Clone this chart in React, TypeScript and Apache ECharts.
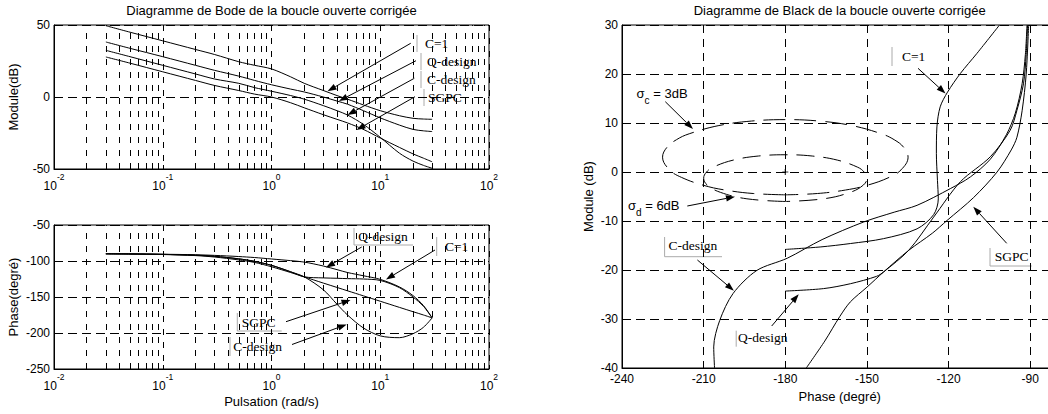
import React, { useEffect, useRef } from 'react';
import * as echarts from 'echarts';

// ---------- Bode data (pulsation rad/s) ----------
const omega = [0.03, 0.05, 0.1, 0.2, 0.3, 0.5, 0.7, 1, 1.5, 2, 3, 4, 5, 7, 10, 15, 20, 25, 30];

const magC1 = [49.5, 45, 39, 33, 29.5, 24.5, 22, 19.5, 14, 9.5, 4.5, 1, -1.5, -5.5, -9.5, -13, -14.8, -15.3, -15.5];
const magQdesign = [38.2, 33.8, 28, 22, 18.5, 14.5, 11.5, 8.5, 5.5, 3.5, 0, -2.8, -5, -9.5, -14.5, -19.5, -22.5, -23.5, -24];
const magCdesign = [32.4, 28, 22, 16, 12.5, 9.5, 6.5, 4, 1, -1.5, -6, -9.5, -12.5, -19, -28, -39, -44.5, -47.5, -49.5];
const magSGPC = [27.8, 23.5, 17.5, 11.5, 8, 4.5, 2, 0, -4, -7.5, -12.3, -15.5, -18, -22.5, -28.5, -35, -39.5, -42.5, -45];

const phC1 = [-90, -90.2, -90.8, -92, -93.5, -97, -100.5, -106, -115, -122, -123.5, -124, -124.5, -125, -127, -137, -150, -163, -179];
const phQdesign = [-90, -90.2, -90.6, -91.3, -92.2, -93.8, -95.2, -97.2, -99.5, -101.5, -107, -112, -116, -120.5, -125.5, -136, -148, -162, -179];
const phCdesign = [-90, -90.2, -90.8, -92, -93.5, -97, -100.5, -106, -115, -122, -140, -160, -175, -193, -204, -206.5, -201, -192, -179];
const phSGPC = [-90, -90.3, -91, -92.5, -94.5, -98.5, -102, -108, -116, -122, -130.7, -136.7, -141.4, -148.4, -155.9, -164.4, -170.4, -175, -179];

const minorTicks = [0.02, 0.03, 0.04, 0.05, 0.06, 0.07, 0.08, 0.09, 0.2, 0.3, 0.4, 0.5, 0.6, 0.7, 0.8, 0.9, 2, 3, 4, 5, 6, 7, 8, 9, 20, 30, 40, 50, 60, 70, 80, 90];

// ---------- Black (Nichols) data: phase (deg), module (dB) ----------
const blackC1Phase = [-101.3, -109.6, -115.7, -120.4, -123.1, -124.3, -124.5, -124.1, -123.8, -125.5, -131.6, -143.9, -156.1, -167.2, -180];
const blackC1Mag = [30, 24.2, 20.1, 16.3, 13.3, 9.2, 3.8, -1.7, -5.5, -8.7, -11.6, -13.6, -14.6, -15.3, -15.8];

const blackQPhase = [-180, -166, -156.1, -146.5, -143.9, -134.7, -125.5, -115.7, -104.7, -97.4, -94.9, -92.5, -91.5, -91];
const blackQMag = [-24.3, -23.8, -22.8, -21.3, -20.4, -16, -9.2, -2, 3.1, 8.5, 12.6, 18, 24, 30];

const blackCPhase = [-206, -206.3, -204.1, -199.2, -190.5, -179.3, -166.5, -151.2, -140, -131.6, -119.4, -112, -104.7, -98.8, -95.5, -93, -91.8, -91.2];
const blackCMag = [-40, -35.7, -30.3, -24.8, -20.1, -17.6, -13.8, -10.2, -8.2, -6.8, -3.4, -1, 2.6, 7.6, 12, 18, 24, 30];

const blackSPhase = [-172.3, -165.5, -160, -156.1, -150, -143.9, -134.7, -126, -120.6, -110.8, -102.2, -97, -94.9, -93, -91.5, -90.6];
const blackSMag = [-40, -34.5, -29.5, -26.5, -23.5, -20.4, -16, -12.5, -9.9, -5.2, 0, 4.5, 7.1, 12.5, 20, 30];

// iso-contours sigma_c = 3dB (outer) and sigma_d = 6dB (inner)
const sigmaCPhase = [-180, -191.8, -202.1, -210.1, -218.1, -222.5, -225.1, -223.5, -220, -215.3, -204.4, -192.4, -180, -167.6, -155.6, -144.7, -140, -136.5, -134.9, -137.5, -141.9, -149.9, -157.9, -168.2, -180];
const sigmaCMag = [-4.66, -4.39, -3.68, -2.71, -1.11, 0.43, 3.03, 5.03, 6.59, 7.8, 9.48, 10.4, 10.69, 10.4, 9.48, 7.8, 6.59, 5.03, 3.03, 0.43, -1.11, -2.71, -3.68, -4.39, -4.66];

const sigmaDPhase = [-180, -194.1, -203.8, -208.7, -210, -209, -206.6, -199.1, -189.9, -180, -170.1, -160.9, -153.4, -151, -150, -151.3, -156.2, -165.9, -180];
const sigmaDMag = [-6.02, -5.47, -4.16, -2.65, -1.25, -0.04, 0.97, 2.43, 3.26, 3.52, 3.26, 2.43, 0.97, -0.04, -1.25, -2.65, -4.16, -5.47, -6.02];

const criticalPoint = [[-180, 0]];

const SANS = '"Liberation Sans", Arial, sans-serif';
const SERIF = '"Liberation Serif", "Times New Roman", serif';

const bode = (mag: number[]) => omega.map((w, i) => [w, mag[i]]);
const pairs = (xs: number[], ys: number[]) => xs.map((x, i) => [x, ys[i]]);

function arrow(x1: number, y1: number, x2: number, y2: number) {
  const dx = x2 - x1, dy = y2 - y1;
  const L = Math.hypot(dx, dy);
  const ux = dx / L, uy = dy / L;
  const hl = 9, hw = 3.2;
  const bx = x2 - ux * hl, by = y2 - uy * hl;
  return [
    { type: 'line', silent: true, shape: { x1, y1, x2: bx, y2: by }, style: { stroke: '#000', lineWidth: 1 } },
    { type: 'polygon', silent: true, shape: { points: [[x2, y2], [bx - uy * hw, by + ux * hw], [bx + uy * hw, by - ux * hw]] }, style: { fill: '#000' } },
  ];
}

function tag(text: string, x: number, y: number, barX: number, barY1: number, barY2: number, underlineTo?: number) {
  const els: any[] = [
    { type: 'text', silent: true, x, y, style: { text, fontSize: 13.5, fontFamily: SERIF, fill: '#000', align: 'left', verticalAlign: 'middle' } },
    { type: 'line', silent: true, shape: { x1: barX, y1: barY1, x2: barX, y2: barY2 }, style: { stroke: '#aaa', lineWidth: 1 } },
  ];
  if (underlineTo !== undefined) {
    els.push({ type: 'line', silent: true, shape: { x1: barX, y1: barY2, x2: underlineTo, y2: barY2 }, style: { stroke: '#aaa', lineWidth: 1 } });
  }
  return els;
}

export default function App() {
  const ref = useRef<HTMLDivElement>(null);

  useEffect(() => {
    const chart = echarts.init(ref.current!, null, { renderer: 'svg' });

    const tickStyle = { inside: true, length: 4, lineStyle: { color: '#000' } };
    const axisLine = { show: true, onZero: false, lineStyle: { color: '#000', width: 1 } };
    const logLabel = {
      color: '#000',
      margin: 3,
      formatter: (v: number) => `{b|10}{s|${Math.round(Math.log10(v))}}`,
      rich: {
        b: { fontSize: 12, fontFamily: SANS, color: '#000', lineHeight: 20, verticalAlign: 'bottom' },
        s: { fontSize: 8.5, fontFamily: SANS, color: '#000', lineHeight: 10, verticalAlign: 'top' },
      },
    };
    const nameStyle = { color: '#000', fontSize: 13, fontFamily: SANS };
    const valLabel = { color: '#000', fontSize: 12, fontFamily: SANS, margin: 4 };

    const lineBase = {
      type: 'line',
      showSymbol: false,
      symbol: 'none',
      smooth: 0.3,
      silent: true,
      z: 3,
      lineStyle: { color: '#000', width: 1 },
    };
    const minorLines = {
      silent: true,
      symbol: ['none', 'none'],
      label: { show: false },
      emphasis: { disabled: true },
      lineStyle: { color: '#000', width: 1, type: [6, 7] },
      data: minorTicks.map((v) => ({ xAxis: v })),
    };

    const gridBase = { show: true, borderColor: '#000', borderWidth: 1, backgroundColor: 'transparent', containLabel: false, outerBoundsMode: 'none' };

    const graphics: any[] = [
      { type: 'text', silent: true, x: 271.5, y: 10, style: { text: 'Diagramme de Bode de la boucle ouverte corrigée', fontSize: 13, fontFamily: SANS, fill: '#000', align: 'center', verticalAlign: 'middle' } },
      { type: 'text', silent: true, x: 839.7, y: 10, style: { text: 'Diagramme de Black de la boucle ouverte corrigée', fontSize: 13, fontFamily: SANS, fill: '#000', align: 'center', verticalAlign: 'middle' } },
      // Bode module
      ...tag('C=1', 425, 43.5, 417, 35, 52),
      ...tag('Q-design', 427, 61, 421, 53, 70),
      ...tag('C-design', 427, 79, 421, 71, 88),
      ...tag('SGPC', 428, 97, 424, 89, 106),
      ...arrow(410.7, 43.3, 327.5, 91.2),
      ...arrow(416, 60.7, 339, 101),
      ...arrow(414.3, 78.3, 347.5, 115),
      ...arrow(415, 96.7, 356.5, 130),
      // Bode phase
      ...tag('Q-design', 358.3, 236, 354, 228, 245, 413),
      ...tag('C=1', 445, 246.7, 436.7, 237, 256),
      ...tag('SGPC', 241.7, 322, 237.3, 313, 331, 281.7),
      ...tag('C-design', 233.3, 346, 230, 337, 356),
      ...arrow(361.7, 247, 326, 267.5),
      ...arrow(435, 250, 386, 279.5),
      ...arrow(286, 321.7, 350.5, 300),
      ...arrow(292, 344.5, 346.7, 324.5),
      // Black
      ...tag('C=1', 902, 56.7, 892, 47, 66),
      ...arrow(918, 68.3, 945.5, 93.5),
      ...tag('C-design', 668.6, 245, 664.6, 237, 256.7, 722),
      ...arrow(697.4, 260, 733.9, 290.7),
      ...tag('Q-design', 737.9, 337.3, 736.2, 330.7, 346.7),
      ...arrow(771.7, 326, 798.7, 294.3),
      ...tag('SGPC', 994.7, 256.7, 990, 248, 266, 1031.8),
      ...arrow(1006.7, 243.3, 973.3, 206.7),
      {
        type: 'text', silent: true, x: 636.6, y: 96,
        style: {
          text: '{a|σ}{b|c}{a| = 3dB}', fill: '#000', align: 'left', verticalAlign: 'middle',
          rich: {
            a: { fontSize: 13, fontFamily: SANS, fill: '#000', lineHeight: 18, verticalAlign: 'top' },
            b: { fontSize: 10, fontFamily: SANS, fill: '#000', lineHeight: 10, verticalAlign: 'bottom' },
          },
        },
      },
      ...arrow(665.3, 101.7, 693, 129),
      {
        type: 'text', silent: true, x: 628, y: 208,
        style: {
          text: '{a|σ}{b|d}{a| = 6dB}', fill: '#000', align: 'left', verticalAlign: 'middle',
          rich: {
            a: { fontSize: 13, fontFamily: SANS, fill: '#000', lineHeight: 18, verticalAlign: 'top' },
            b: { fontSize: 10, fontFamily: SANS, fill: '#000', lineHeight: 10, verticalAlign: 'bottom' },
          },
        },
      },
      ...arrow(687.3, 206, 735, 196.7),
    ];

    const option: any = {
      animation: false,
      backgroundColor: '#fff',
      grid: [
        { ...gridBase, left: 54, top: 25, width: 435, height: 144 },
        { ...gridBase, left: 54, top: 225, width: 435, height: 144 },
        { ...gridBase, left: 622, top: 25, width: 435.5, height: 343 },
      ],
      xAxis: [
        {
          type: 'log', logBase: 10, min: 0.01, max: 100, gridIndex: 0,
          axisLine, axisTick: tickStyle, axisLabel: logLabel,
          splitLine: { show: true, lineStyle: { color: '#000', width: 1, type: [6, 7] } },
        },
        {
          type: 'log', logBase: 10, min: 0.01, max: 100, gridIndex: 1,
          axisLine, axisTick: tickStyle, axisLabel: logLabel,
          splitLine: { show: true, lineStyle: { color: '#000', width: 1, type: [6, 7] } },
          name: 'Pulsation (rad/s)', nameLocation: 'middle', nameGap: 26, nameTextStyle: nameStyle,
        },
        {
          type: 'value', min: -240, max: -80, interval: 30, gridIndex: 2,
          axisLine, axisTick: tickStyle, axisLabel: { ...valLabel, margin: 5, showMaxLabel: false },
          splitLine: { show: true, lineStyle: { color: '#000', width: 1, type: [8, 6] } },
          name: 'Phase (degré)', nameLocation: 'middle', nameGap: 22, nameTextStyle: nameStyle,
        },
      ],
      yAxis: [
        {
          type: 'value', min: -50, max: 50, interval: 50, gridIndex: 0,
          axisLine, axisTick: tickStyle, axisLabel: valLabel,
          splitLine: { show: true, lineStyle: { color: '#000', width: 1, type: [9, 5] } },
          name: 'Module(dB)', nameLocation: 'middle', nameGap: 34, nameTextStyle: nameStyle,
        },
        {
          type: 'value', min: -250, max: -50, interval: 50, gridIndex: 1,
          axisLine, axisTick: tickStyle, axisLabel: valLabel,
          splitLine: { show: true, lineStyle: { color: '#000', width: 1, type: [9, 5] } },
          name: 'Phase(degré)', nameLocation: 'middle', nameGap: 34, nameTextStyle: nameStyle,
        },
        {
          type: 'value', min: -40, max: 30, interval: 10, gridIndex: 2,
          axisLine, axisTick: tickStyle, axisLabel: valLabel,
          splitLine: { show: true, lineStyle: { color: '#000', width: 1, type: [9, 5] } },
          name: 'Module (dB)', nameLocation: 'middle', nameGap: 27, nameTextStyle: nameStyle,
        },
      ],
      series: [
        { ...lineBase, name: 'C=1', xAxisIndex: 0, yAxisIndex: 0, data: bode(magC1), markLine: minorLines },
        { ...lineBase, name: 'Q-design', xAxisIndex: 0, yAxisIndex: 0, data: bode(magQdesign) },
        { ...lineBase, name: 'C-design', xAxisIndex: 0, yAxisIndex: 0, data: bode(magCdesign) },
        { ...lineBase, name: 'SGPC', xAxisIndex: 0, yAxisIndex: 0, data: bode(magSGPC) },

        { ...lineBase, name: 'C=1 phase', xAxisIndex: 1, yAxisIndex: 1, data: bode(phC1), markLine: minorLines },
        { ...lineBase, name: 'Q-design phase', xAxisIndex: 1, yAxisIndex: 1, data: bode(phQdesign) },
        { ...lineBase, name: 'C-design phase', xAxisIndex: 1, yAxisIndex: 1, data: bode(phCdesign) },
        { ...lineBase, name: 'SGPC phase', xAxisIndex: 1, yAxisIndex: 1, data: bode(phSGPC) },

        { ...lineBase, name: 'C=1 black', xAxisIndex: 2, yAxisIndex: 2, data: pairs(blackC1Phase, blackC1Mag) },
        { ...lineBase, name: 'Q-design black', xAxisIndex: 2, yAxisIndex: 2, data: pairs(blackQPhase, blackQMag) },
        { ...lineBase, name: 'C-design black', xAxisIndex: 2, yAxisIndex: 2, data: pairs(blackCPhase, blackCMag) },
        { ...lineBase, name: 'SGPC black', xAxisIndex: 2, yAxisIndex: 2, data: pairs(blackSPhase, blackSMag) },
        { ...lineBase, name: 'sigma_c', xAxisIndex: 2, yAxisIndex: 2, smooth: 0.4, lineStyle: { color: '#000', width: 1, type: [22, 9] }, data: pairs(sigmaCPhase, sigmaCMag) },
        { ...lineBase, name: 'sigma_d', xAxisIndex: 2, yAxisIndex: 2, smooth: 0.4, lineStyle: { color: '#000', width: 1, type: [18, 9] }, data: pairs(sigmaDPhase, sigmaDMag) },
        {
          type: 'scatter', name: 'critical', xAxisIndex: 2, yAxisIndex: 2, silent: true, z: 4,
          symbol: 'path://M4,0L6,0L6,4L10,4L10,6L6,6L6,10L4,10L4,6L0,6L0,4L4,4Z', symbolSize: 6,
          itemStyle: { color: '#000' }, data: criticalPoint,
        },
      ],
      graphic: graphics,
    };

    chart.setOption(option);
    return () => chart.dispose();
  }, []);

  return (
    <div
      ref={ref}
      style={{ position: 'fixed', left: 0, top: 0, width: 1048, height: 414, background: '#fff' }}
    />
  );
}
